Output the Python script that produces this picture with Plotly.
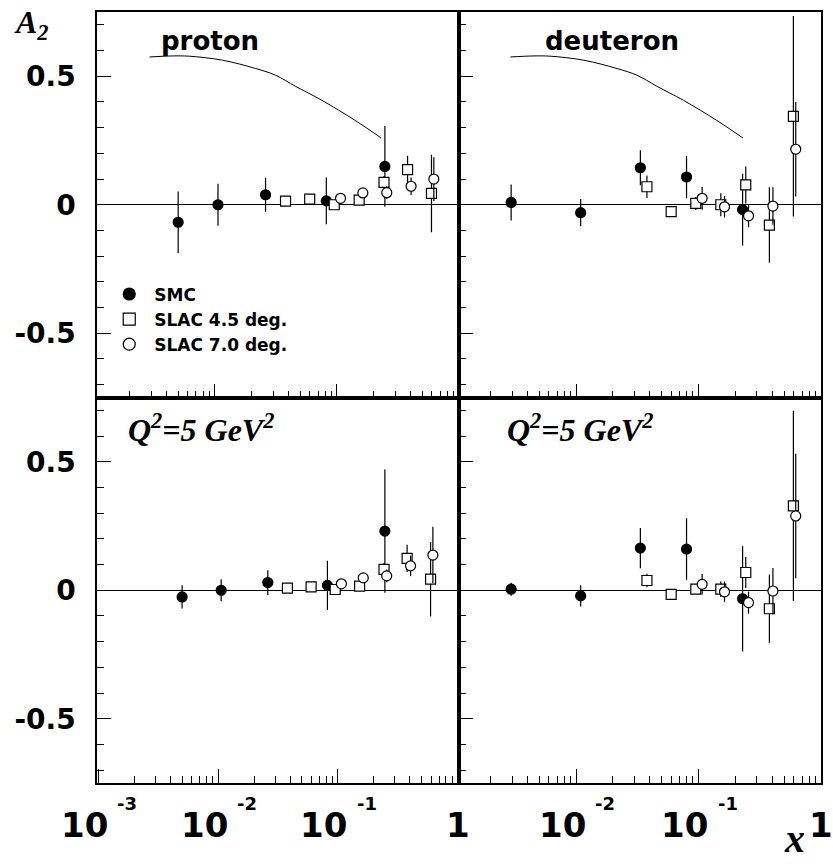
import plotly.graph_objects as go

# ---------------- data ----------------
# Bjorken x of the bins
x_smc_p = [0.0050, 0.0106, 0.026, 0.0818, 0.247]
x_smc_d = [0.00295, 0.0109, 0.0335, 0.0798, 0.229]
x_slac45 = [0.0379, 0.0598, 0.0950, 0.152, 0.243, 0.379, 0.595]
x_slac70 = [0.107, 0.163, 0.256, 0.405, 0.622]

# proton, measured Q^2
a2_p_smc = [-0.068, 0.000, 0.039, 0.015, 0.149]
e_p_smc = [0.120, 0.082, 0.066, 0.091, 0.157]
a2_p_s45 = [0.014, 0.022, 0.000, 0.018, 0.087, 0.137, 0.044]
e_p_s45 = [0.008, 0.008, 0.010, 0.012, 0.025, 0.054, 0.151]
a2_p_s70 = [0.025, 0.046, 0.047, 0.072, 0.100]
e_p_s70 = [0.010, 0.012, 0.025, 0.034, 0.085]

# deuteron, measured Q^2
a2_d_smc = [0.009, -0.031, 0.144, 0.108, -0.019]
e_d_smc = [0.070, 0.053, 0.068, 0.083, 0.140]
a2_d_s45 = [0.070, -0.027, 0.005, 0.000, 0.077, -0.079, 0.344]
e_d_s45 = [0.044, 0.020, 0.025, 0.045, 0.072, 0.147, 0.390]
a2_d_s70 = [0.025, -0.008, -0.043, -0.005, 0.216]
e_d_s70 = [0.044, 0.042, 0.045, 0.073, 0.184]

# proton, Q^2 = 5 GeV^2
a2_p5_smc = [-0.026, 0.000, 0.030, 0.019, 0.230]
e_p5_smc = [0.045, 0.043, 0.048, 0.096, 0.240]
a2_p5_s45 = [0.008, 0.013, 0.003, 0.016, 0.081, 0.124, 0.043]
e_p5_s45 = [0.008, 0.008, 0.010, 0.012, 0.025, 0.053, 0.145]
a2_p5_s70 = [0.025, 0.048, 0.056, 0.095, 0.137]
e_p5_s70 = [0.010, 0.012, 0.025, 0.040, 0.110]

# deuteron, Q^2 = 5 GeV^2
a2_d5_smc = [0.004, -0.022, 0.164, 0.160, -0.033]
e_d5_smc = [0.025, 0.041, 0.078, 0.120, 0.205]
a2_d5_s45 = [0.038, -0.016, 0.004, 0.004, 0.069, -0.072, 0.328]
e_d5_s45 = [0.026, 0.012, 0.015, 0.030, 0.060, 0.133, 0.370]
a2_d5_s70 = [0.023, -0.006, -0.048, -0.003, 0.289]
e_d5_s70 = [0.040, 0.040, 0.043, 0.090, 0.242]

# positivity bound curve (top panels)
x_curve = [0.00291, 0.0045, 0.00616, 0.01153, 0.0216, 0.0314, 0.0457, 0.0755, 0.141, 0.230]
y_curve = [0.575, 0.579, 0.578, 0.5625, 0.530, 0.504, 0.461, 0.406, 0.328, 0.260]

# axis tick labels (decade exponents)
tick_exp_left = [-3, -2, -1, 0]
tick_exp_right = [-2, -1, 0]
series_names = ["SMC", "SLAC 4.5 deg.", "SLAC 7.0 deg."]

# ---------------- styles ----------------
SANS = "DejaVu Sans"
SERIF = "Liberation Serif"
styles = {
    "SMC": dict(symbol="circle", color="black"),
    "SLAC 4.5 deg.": dict(symbol="square", color="white"),
    "SLAC 7.0 deg.": dict(symbol="circle", color="white"),
}

fig = go.Figure()

panels = [
    ("x", "y", x_smc_p, [(a2_p_smc, e_p_smc), (a2_p_s45, e_p_s45), (a2_p_s70, e_p_s70)], True),
    ("x2", "y2", x_smc_d, [(a2_d_smc, e_d_smc), (a2_d_s45, e_d_s45), (a2_d_s70, e_d_s70)], True),
    ("x3", "y3", x_smc_p, [(a2_p5_smc, e_p5_smc), (a2_p5_s45, e_p5_s45), (a2_p5_s70, e_p5_s70)], False),
    ("x4", "y4", x_smc_d, [(a2_d5_smc, e_d5_smc), (a2_d5_s45, e_d5_s45), (a2_d5_s70, e_d5_s70)], False),
]

for xa, ya, xsmc, sets, curve in panels:
    if curve:
        fig.add_trace(go.Scatter(x=x_curve, y=y_curve, mode="lines", xaxis=xa, yaxis=ya,
                                 line=dict(color="black", width=1), showlegend=False,
                                 line_shape="spline"))
    xs = [xsmc, x_slac45, x_slac70]
    for name, xv, (yv, ev) in zip(series_names, xs, sets):
        st = styles[name]
        fig.add_trace(go.Scatter(
            x=xv, y=yv, mode="markers", xaxis=xa, yaxis=ya, showlegend=False,
            error_y=dict(type="data", array=ev, visible=True, width=0, thickness=1.2, color="black"),
            marker=dict(symbol=st["symbol"], size=10, color=st["color"],
                        line=dict(color="black", width=1.2)),
        ))

# legend-only entries
for name in series_names:
    st = styles[name]
    fig.add_trace(go.Scatter(x=[None], y=[None], mode="markers", xaxis="x", yaxis="y", name=name,
                             marker=dict(symbol=st["symbol"], size=12, color=st["color"],
                                         line=dict(color="black", width=1.2))))

def xaxis_cfg(domain, anchor, rng):
    return dict(type="log", domain=domain, anchor=anchor, range=rng,
                showline=True, linecolor="black", linewidth=1.5, mirror=True,
                ticks="inside", ticklen=14, tickwidth=1, tickcolor="black",
                dtick=1, tick0=0, showticklabels=False, showgrid=False, zeroline=False,
                minor=dict(ticks="inside", ticklen=7, tickwidth=1, tickcolor="black",
                           dtick="D1", showgrid=False))

def yaxis_cfg(domain, anchor, labels):
    return dict(domain=domain, anchor=anchor, range=[-0.75, 0.75],
                showline=True, linecolor="black", linewidth=1.5, mirror=True,
                ticks="inside", ticklen=14, tickwidth=1, tickcolor="black",
                tickvals=[-0.5, 0, 0.5], ticktext=["-0.5", "0", "0.5"],
                showticklabels=labels, ticklabelstandoff=14,
                tickfont=dict(family=SANS, size=28, color="black", weight="bold"),
                showgrid=False, zeroline=True, zerolinecolor="black", zerolinewidth=1,
                minor=dict(ticks="inside", ticklen=7, tickwidth=1, tickcolor="black",
                           dtick=0.1, tick0=0, showgrid=False))

fig.update_layout(
    width=833, height=864,
    margin=dict(l=97, r=10, t=12, b=81),
    paper_bgcolor="white", plot_bgcolor="white",
    xaxis=xaxis_cfg([0, 0.5], "y", [-2.966, 0.0]),
    xaxis2=xaxis_cfg([0.5, 1], "y2", [-2.956, 0.0]),
    xaxis3=xaxis_cfg([0, 0.5], "y3", [-3.012, 0.012]),
    xaxis4=xaxis_cfg([0.5, 1], "y4", [-2.956, 0.0]),
    yaxis=yaxis_cfg([0.5, 1], "x", True),
    yaxis2=yaxis_cfg([0.5, 1], "x2", False),
    yaxis3=yaxis_cfg([0, 0.5], "x3", True),
    yaxis4=yaxis_cfg([0, 0.5], "x4", False),
    showlegend=True,
    legend=dict(x=0.010, y=0.657, xanchor="left", yanchor="top", bgcolor="rgba(0,0,0,0)",
                font=dict(family=SANS, size=17, color="black", weight="bold"),
                tracegroupgap=0, itemsizing="trace", itemwidth=40),
)

ann = []
def txt(text, x, y, size, family=SANS, xanchor="center", yanchor="middle", xref="paper", yref="paper",
        xshift=0, yshift=0, bold=True):
    ann.append(dict(text=text, x=x, y=y, xref=xref, yref=yref, xanchor=xanchor, yanchor=yanchor,
                    xshift=xshift, yshift=yshift, showarrow=False,
                    font=dict(family=family, size=size, color="black", weight="bold" if bold else "normal")))

# panel titles
txt("proton", 0.1563, 0.962, 26)
txt("deuteron", 0.7114, 0.962, 26)
qlab = "<b><i>Q<sup>2</sup>=5 GeV<sup>2</sup></i></b>"
txt(qlab, 0.040, 0.4604, 32, family=SERIF, xanchor="left")
txt(qlab, 0.564, 0.4604, 32, family=SERIF, xanchor="left")
# axis titles
txt("<b><i>A</i></b><sub><b><i>2</i></b></sub>", -0.118, 0.984, 32, family=SERIF, xanchor="left")
txt("<b><i>x</i></b>", 0.963, -0.072, 40, family=SERIF)

# x tick labels
for xr, exps in (("x3", tick_exp_left), ("x4", tick_exp_right)):
    for e in exps:
        if e == 0:
            txt("1", e, 0, 34, xref=xr, yshift=-41.5)
        else:
            txt("10", e, 0, 34, xref=xr, xshift=-14, yshift=-41.5)
            txt(str(e), e, 0, 18, xref=xr, xshift=29, yshift=-20.5)

fig.update_layout(annotations=ann)
fig.write_html("out.html")
